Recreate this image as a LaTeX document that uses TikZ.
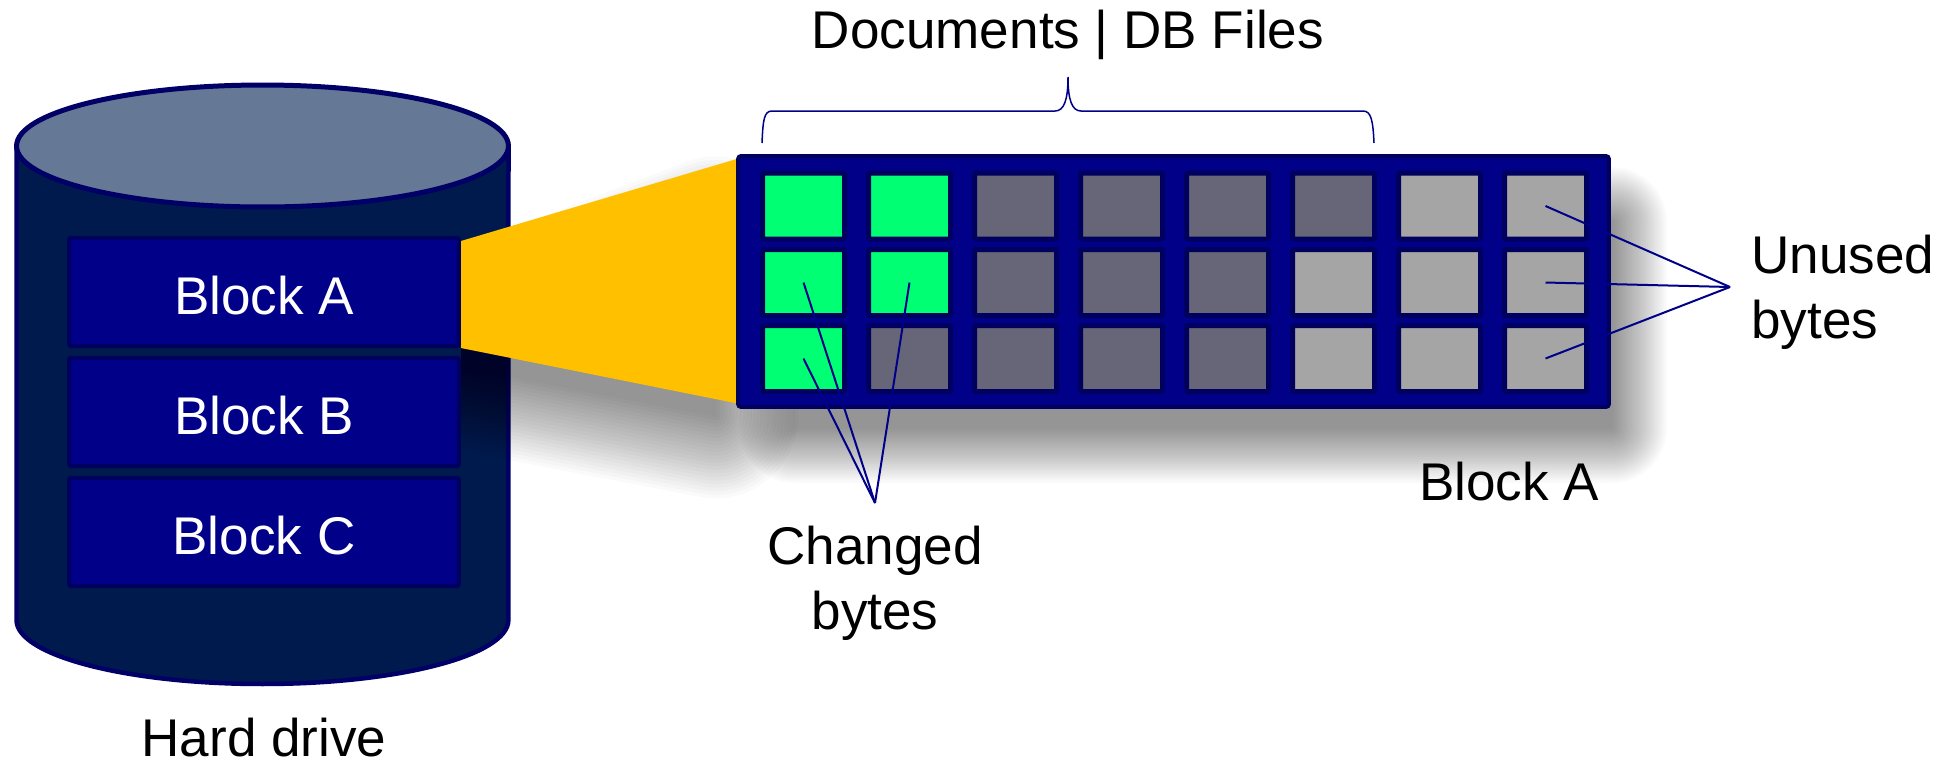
\documentclass[tikz,border=0pt]{standalone}
\usepackage{fontspec}
\setmainfont{Liberation Sans}
\definecolor{panelblue}{HTML}{000088}
\definecolor{edgeblue}{HTML}{00005F}
\definecolor{diskedge}{HTML}{000066}
\definecolor{diskblue}{HTML}{001A4D}
\definecolor{disktop}{HTML}{657896}
\definecolor{changedgreen}{HTML}{00FF73}
\definecolor{usedgrey}{HTML}{666678}
\definecolor{unusedgrey}{HTML}{A5A5A5}
\definecolor{funnelyellow}{HTML}{FFC000}

\begin{document}
\begin{tikzpicture}[x=0.02cm,y=-0.02cm,font=\fontsize{30.2}{37}\selectfont]
%styles of the nodes
\tikzstyle{blockbox}=[rectangle,draw=edgeblue,line width=0.08cm,rounded corners=0.04cm,fill=panelblue,text=white,
inner sep=0pt,minimum width=7.8cm,minimum height=2.16cm,text height=0.9cm,text depth=0pt]
\tikzstyle{cellbox}=[rectangle,draw=edgeblue,line width=0.1cm,rounded corners=0.04cm,inner sep=0pt,
minimum width=1.64cm,minimum height=1.32cm]
\tikzstyle{label}=[text=black,inner sep=0pt,align=center]
%styles of the lines
\tikzstyle{leader}=[draw=panelblue,line width=0.04cm]
\useasboundingbox (0,0) rectangle (1951,762);
\fill[white] (0,0) rectangle (1951,762);
%hard drive
\draw[draw=diskedge,line width=0.09cm,fill=diskblue] (16.5,146) -- (16.5,620)
  arc[start angle=180,end angle=360,x radius=4.92cm,y radius=1.28cm] -- (508.5,146) -- cycle;
\draw[draw=diskedge,line width=0.1cm,fill=disktop] (262.5,146) ellipse [x radius=4.92cm,y radius=1.22cm];
\node[blockbox] (blocka) at (264,292) {Block A};
\node[blockbox] (blockb) at (264,412) {Block B};
\node[blockbox] (blockc) at (264,532) {Block C};
%shadows of the funnel and of the zoomed block
\begin{scope}
\clip (461,0) rectangle (1951,762);
\foreach \i in {1,...,24}{
\pgfmathsetmacro{\w}{0.04*85*(\i-0.5)/24}
\begin{scope}[transparency group,opacity=0.0204]
\filldraw[black,line width=\w cm,line join=round] (440,362) -- (715,415) -- (715,240) -- (440,345) -- cycle;
\end{scope}
}
\foreach \i in {1,...,24}{
\pgfmathsetmacro{\w}{0.04*56*(\i-0.5)/24}
\begin{scope}[transparency group,opacity=0.0204]
\filldraw[black,line width=\w cm,line join=round] (794,222) -- (1612,222) -- (1612,428) -- (794,428) -- cycle;
\end{scope}
}
\end{scope}
%funnel
\fill[funnelyellow] (461,241) -- (740,158) -- (740,404) -- (461,348) -- cycle;
%zoomed block
\node[rectangle,draw=edgeblue,line width=0.08cm,rounded corners=0.06cm,fill=panelblue,inner sep=0pt,
minimum width=17.42cm,minimum height=5.02cm] (panel) at (1173.5,281.5) {};
\foreach \row/\y/\greens/\darks in {1/206/2/6,2/282.5/2/5,3/358.5/1/5}{
\foreach \col in {1,...,8}{
  \ifnum\col>\darks \def\cellfill{unusedgrey}\else
  \ifnum\col>\greens \def\cellfill{usedgrey}\else \def\cellfill{changedgreen}\fi\fi
  \node[cellbox,fill=\cellfill] (cell-\row-\col) at ({803.5+106*(\col-1)},\y) {};
}}
%points where the lines meet
\coordinate (changedtip) at (875,503);
\coordinate (unusedtip) at (1730,287);
%lines
\draw[leader] (cell-2-1.center) -- (changedtip);
\draw[leader] (cell-3-1.center) -- (changedtip);
\draw[leader] (cell-2-2.center) -- (changedtip);
\draw[leader] (cell-1-8.center) -- (unusedtip);
\draw[leader] (cell-2-8.center) -- (unusedtip);
\draw[leader] (cell-3-8.center) -- (unusedtip);
%brace
\draw[draw=panelblue,line width=0.03cm] (762,143) .. controls (763,120) and (764,111) .. (772,111)
  -- (1055,111) .. controls (1064,111) and (1068,100) .. (1068,77)
  .. controls (1068,100) and (1072,111) .. (1081,111) -- (1363,111)
  .. controls (1371,111) and (1373,120) .. (1374,143);
%labels
\node[label] (files) at (1068,35) {Documents | DB Files};
\node[label] (harddrive) at (264,738) {Hard drive};
\node[label] (blockname) at (1509,482) {Block A};
\node[label] (changed) at (875,583) {Changed\\bytes};
\node[label,anchor=west,align=left] (unused) at (1751,292) {Unused\\bytes};
\end{tikzpicture}
\end{document}
